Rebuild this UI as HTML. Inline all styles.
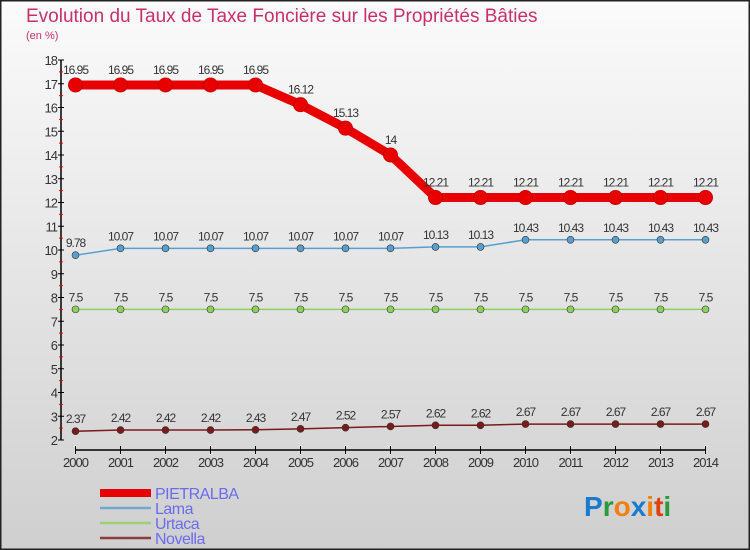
<!DOCTYPE html>
<html><head><meta charset="utf-8"><style>
body{margin:0;}
svg{display:block;font-family:"Liberation Sans",sans-serif;}
</style></head><body>
<svg id="chart" width="750" height="550" xmlns="http://www.w3.org/2000/svg">
<defs><linearGradient id="bg" x1="0" y1="0" x2="0" y2="1"><stop offset="0" stop-color="#fbfbfb"/><stop offset="1" stop-color="#cfcfcf"/></linearGradient></defs>
<rect x="0.5" y="0.5" width="749" height="549" fill="url(#bg)" stroke="#222" stroke-width="2"/>
<text x="26" y="22" font-size="19" fill="#c8306a">Evolution du Taux de Taxe Foncière sur les Propriétés Bâties</text>
<text x="26" y="39" font-size="11" fill="#c8306a">(en %)</text>
<g id="axes"></g>
<g id="series"></g>
<g id="legend"></g>
<text x="584" y="516" font-size="28" font-weight="bold"><tspan fill="#1a7ad0">P</tspan><tspan fill="#2a9a3a">r</tspan><tspan fill="#f08010">o</tspan><tspan fill="#1a7ad0">x</tspan><tspan fill="#f08010">i</tspan><tspan fill="#e04010">t</tspan><tspan fill="#2a9a3a">i</tspan></text>
</svg>
<script>
const years=[2000,2001,2002,2003,2004,2005,2006,2007,2008,2009,2010,2011,2012,2013,2014];
const pietralba=[16.95,16.95,16.95,16.95,16.95,16.12,15.13,14,12.21,12.21,12.21,12.21,12.21,12.21,12.21];
const lama=[9.78,10.07,10.07,10.07,10.07,10.07,10.07,10.07,10.13,10.13,10.43,10.43,10.43,10.43,10.43];
const urtaca=[7.5,7.5,7.5,7.5,7.5,7.5,7.5,7.5,7.5,7.5,7.5,7.5,7.5,7.5,7.5];
const novella=[2.37,2.42,2.42,2.42,2.43,2.47,2.52,2.57,2.62,2.62,2.67,2.67,2.67,2.67,2.67];
const yTicks=[2,3,4,5,6,7,8,9,10,11,12,13,14,15,16,17,18];
const seriesNames=["PIETRALBA","Lama","Urtaca","Novella"];
const NS="http://www.w3.org/2000/svg";
const X=i=>75.5+i*45;
const Y=v=>440-(v-2)*23.75;
function mk(tag,attrs,parent,text){const e=document.createElementNS(NS,tag);for(const k in attrs)e.setAttribute(k,attrs[k]);if(text!==undefined)e.textContent=text;parent.appendChild(e);return e;}
const ax=document.getElementById('axes');
let e=mk('line',{x1:61,y1:Y(18),x2:61,y2:Y(2),stroke:'#000','stroke-width':1.5},ax);


yTicks.forEach(t=>{
  mk('line',{x1:58,y1:Y(t),x2:64,y2:Y(t),stroke:'#000'},ax);
  if(t<18){mk('line',{x1:59,y1:Y(t+0.5),x2:63,y2:Y(t+0.5),stroke:'#e00'},ax);}
  const l=mk('text',{x:57,y:Y(t)+5,'font-size':13,fill:'#333','text-anchor':'end','letter-spacing':'-1'},ax,String(t));
  
  
});
e=mk('line',{x1:X(0),y1:450,x2:X(years.length-1),y2:450,stroke:'#000','stroke-width':1.5},ax);


years.forEach((yr,i)=>{
  mk('line',{x1:X(i),y1:446,x2:X(i),y2:454,stroke:'#000'},ax);
  const l=mk('text',{x:X(i),y:467,'font-size':13,fill:'#333','text-anchor':'middle','letter-spacing':'-1'},ax,String(yr));
  
  
});
const sg=document.getElementById('series');
const defs=[
 {d:pietralba,c:'#e80000',w:9,r:7,n:'pietralba'},
 {d:lama,c:'#5a9ed0',w:1.5,r:3.5,n:'lama'},
 {d:urtaca,c:'#8ed060',w:1.5,r:3.5,n:'urtaca'},
 {d:novella,c:'#7a1a1a',w:1.5,r:3.5,n:'novella'}];
defs.forEach(s=>{
  const g=mk('g',{},sg);
  
  
  const p=mk('polyline',{points:s.d.map((v,i)=>X(i)+','+Y(v)).join(' '),fill:'none',stroke:s.c,'stroke-width':s.w,'stroke-linejoin':'round'},g);
  
  
  s.d.forEach((v,i)=>{
    const c=mk('circle',{cx:X(i),cy:Y(v),r:s.r,fill:s.c,stroke:s.w>2?'#c00':'#333','stroke-width':s.w>2?1:0.6},g);
    
    
    const t=mk('text',{x:X(i),y:Y(v)-(s.w>2?11:8),'font-size':12,fill:'#333','text-anchor':'middle','letter-spacing':'-1'},g,String(v));
    
    
  });
});
const lg=document.getElementById('legend');
const ly=[493,508,523,538];
defs.forEach((s,k)=>{
  const g=mk('g',{},lg);
  
  
  mk('line',{x1:100,y1:ly[k],x2:151,y2:ly[k],stroke:s.c,'stroke-width':s.w>2?8:2.5,opacity:s.w>2?1:0.8},g);
  mk('text',{x:155,y:ly[k]+6,'font-size':16,fill:'#6b6bf0','letter-spacing':'-0.5'},g,seriesNames[k]);
});
</script>
</body></html>
